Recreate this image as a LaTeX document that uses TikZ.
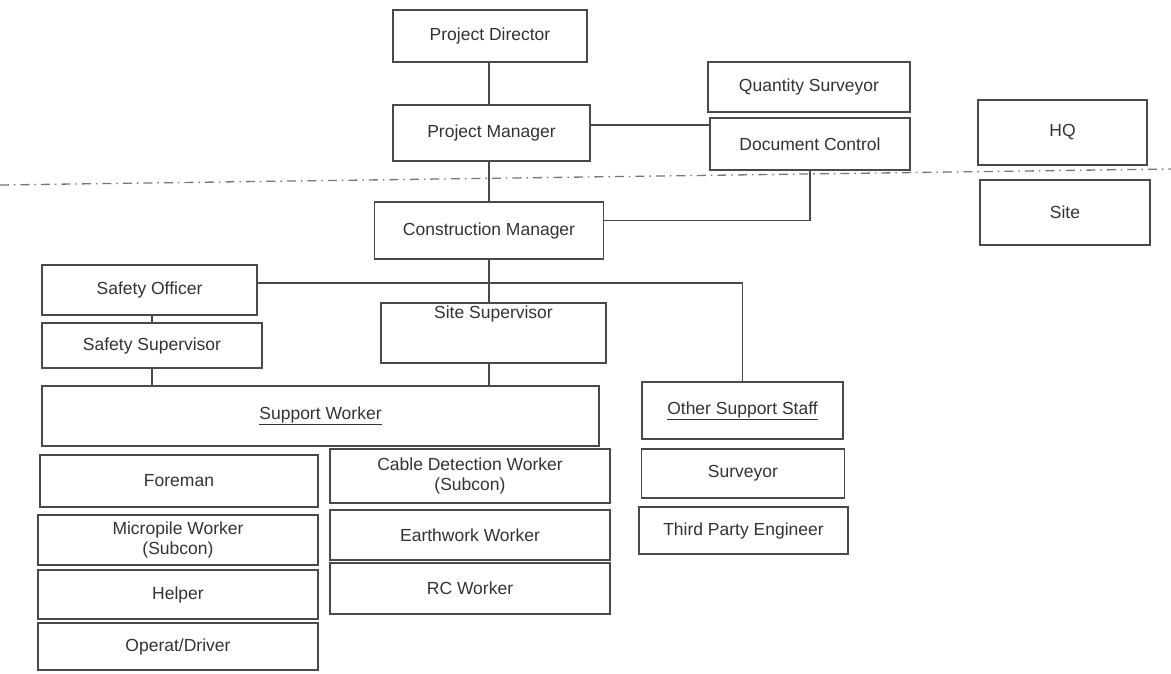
\documentclass[tikz,border=0pt]{standalone}
\usepackage{fontspec}
\setmainfont{Liberation Sans}
\usetikzlibrary{calc}
\definecolor{linec}{HTML}{4A4A4A}
\definecolor{textc}{HTML}{333333}
\tikzset{
  box/.style={draw=linec, line width=1.4pt, inner sep=0pt, align=center, text=textc,
    font=\fontsize{17.5}{20}\selectfont},
  conn/.style={draw=linec, line width=1.5pt},
  sep/.style={draw=linec!75, line width=1.3pt, dash pattern=on 9pt off 5pt on 1.5pt off 5pt}
}
\begin{document}
\begin{tikzpicture}[x=1pt,y=-1pt]
\useasboundingbox (0,0) rectangle (1171,673);
\node[box, minimum width=194pt, minimum height=52pt] (pd) at (490,36) {Project Director};
\node[box, minimum width=197pt, minimum height=56pt] (pm) at (491.5,133) {Project Manager};
\node[box, minimum width=202pt, minimum height=50pt] (qs) at (809,87) {Quantity Surveyor};
\node[box, minimum width=200pt, minimum height=52pt] (dc) at (810,144) {Document Control};
\node[box, minimum width=169pt, minimum height=65pt] (hq) at (1062.5,132.5) {HQ};
\node[box, minimum width=170pt, minimum height=65pt] (site) at (1065,212.5) {Site};
\node[box, minimum width=229pt, minimum height=57pt] (cm) at (489,230.5) {Construction Manager};
\node[box, minimum width=215pt, minimum height=50pt] (so) at (149.5,290) {Safety Officer};
\node[box, minimum width=220pt, minimum height=45pt] (ss) at (152,345.5) {Safety Supervisor};
\node[box, minimum width=225pt, minimum height=60pt,
  label={[box, draw=none, anchor=north, yshift=-3pt]north:Site Supervisor}] (sitesup) at (493.5,333) {};
\node[box, minimum width=201pt, minimum height=57pt] (oss) at (742.5,410.5) {\underline{Other Support Staff}};
\node[box, minimum width=557pt, minimum height=60pt] (sw) at (320.5,416) {\underline{Support Worker}};
\node[box, minimum width=278pt, minimum height=52pt] (fm) at (179,481) {Foreman};
\node[box, minimum width=280pt, minimum height=54pt] (cdw) at (470,476) {Cable Detection Worker\\(Subcon)};
\node[box, minimum width=280pt, minimum height=50pt] (mw) at (178,540) {Micropile Worker\\(Subcon)};
\node[box, minimum width=280pt, minimum height=50pt] (ew) at (470,535) {Earthwork Worker};
\node[box, minimum width=280pt, minimum height=49pt] (hp) at (178,594.5) {Helper};
\node[box, minimum width=280pt, minimum height=51pt] (rc) at (470,588.5) {RC Worker};
\node[box, minimum width=280pt, minimum height=47pt] (od) at (178,646.5) {Operat/Driver};
\node[box, minimum width=203pt, minimum height=49pt] (sv) at (743,473.5) {Surveyor};
\node[box, minimum width=209pt, minimum height=47pt] (tpe) at (743.5,530.5) {Third Party Engineer};
% separator
\coordinate (sepL) at (0,185);
\coordinate (sepR) at (1171,169);
\draw[sep] (sepL) -- (sepR);
% connectors
\draw[conn] (pd.south -| cm.north) -- (pm.north -| cm.north);
\draw[conn] ([yshift=8pt]pm.east) -- ([yshift=8pt]pm.east -| dc.west);
\draw[conn] (pm.south -| cm.north) -- (cm.north);
\draw[conn] (dc.south) |- ([yshift=10pt]cm.east);
\draw[conn] (cm.south) -- (cm.south |- sitesup.north);
\draw[conn] ([yshift=7pt]so.east) -| (oss.north);
\draw[conn] (so.south -| ss.north) -- (ss.north);
\draw[conn] (ss.south) -- (ss.south |- sw.north);
\draw[conn] (cm.south |- sitesup.south) -- (cm.south |- sw.north);
\end{tikzpicture}
\end{document}
